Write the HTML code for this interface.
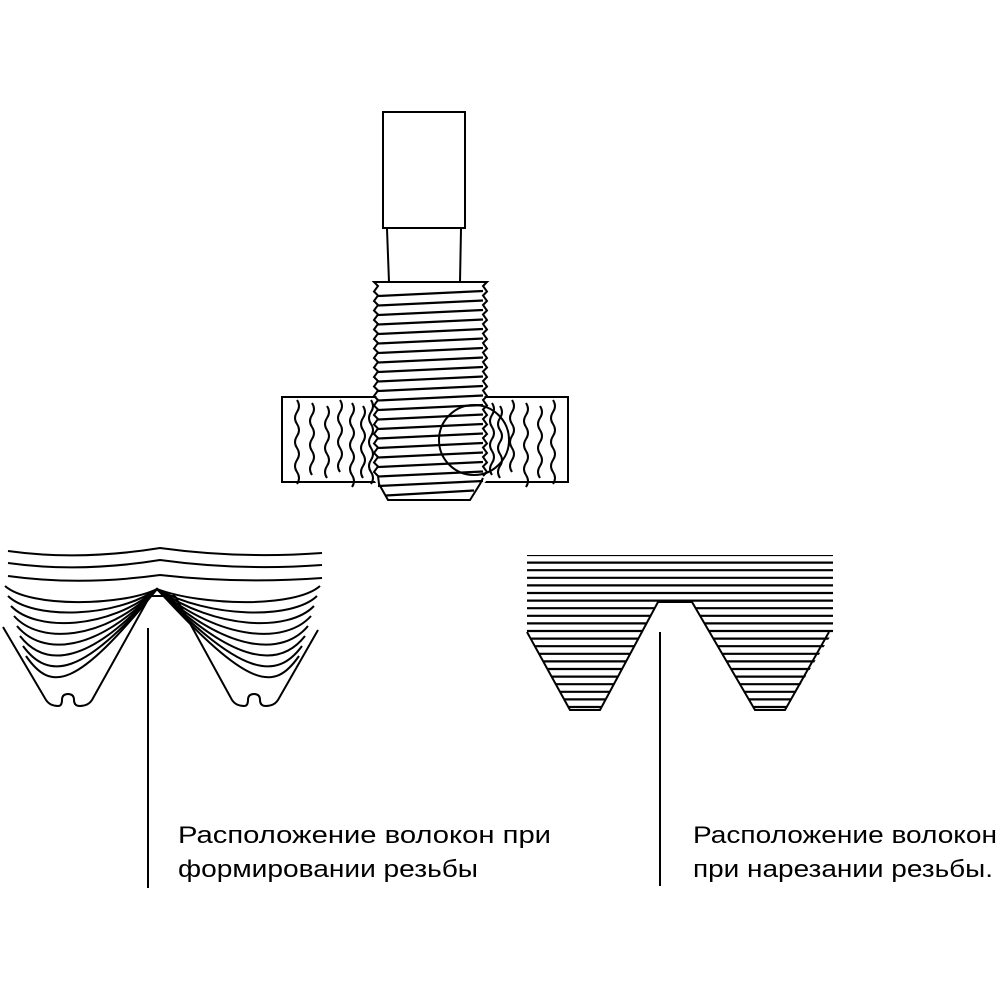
<!DOCTYPE html>
<html><head><meta charset="utf-8"><style>html,body{margin:0;padding:0;background:#fff}svg{display:block}</style></head>
<body>
<svg id="s" width="1000" height="1000" viewBox="0 0 1000 1000" xmlns="http://www.w3.org/2000/svg" fill="none" stroke="#000" stroke-width="2">
<defs>
<clipPath id="cr"><polygon points="527,555 833,555 833,632 785,710 755,710 692,602 658,602 600,710 570,710 527,632"/></clipPath>
</defs>
<rect x="383" y="112" width="82" height="116"/>
<line x1="387" y1="229" x2="389" y2="282"/><line x1="461" y1="229" x2="460" y2="282"/>
<rect x="282" y="397" width="286" height="85"/>
<g id="wood"></g>
<g id="boltg"></g>
<circle cx="474" cy="440" r="35"/>
<g id="rl" clip-path="url(#cr)"></g>
<polyline points="527,632 570,710 600,710 658,602 692,602 755,710 785,710 829,632"/>
<line x1="660" y1="632" x2="660" y2="886"/>
<g id="ll"></g>
<path d="M3,627 L46,700 Q50,706 58,706 Q62,706 62,700 Q62,694 68,694 Q74,694 74,700 Q74,706 80,706 Q88,706 92,700 L150,596"/>
<path d="M175,596 L232,700 Q236,706 244,706 Q248,706 248,700 Q248,694 254,694 Q260,694 260,700 Q260,706 266,706 Q274,706 278,700 L318,630"/>
<line x1="150" y1="596" x2="175" y2="596"/>
<line x1="148" y1="628" x2="148" y2="888"/>
<g font-family="'Liberation Sans', sans-serif" font-size="24" fill="#000" stroke="none">
<text x="178" y="843" textLength="373" lengthAdjust="spacingAndGlyphs">Расположение волокон при</text>
<text x="178" y="877" textLength="300" lengthAdjust="spacingAndGlyphs">формировании резьбы</text>
<text x="693" y="843" textLength="304" lengthAdjust="spacingAndGlyphs">Расположение волокон</text>
<text x="693" y="877" textLength="300" lengthAdjust="spacingAndGlyphs">при нарезании резьбы.</text>
</g>
</svg>
<script>
var NS="http://www.w3.org/2000/svg";
function el(p,t,a){var e=document.createElementNS(NS,t);for(var k in a)e.setAttribute(k,a[k]);document.getElementById(p).appendChild(e);return e;}
for(var y=555;y<712;y+=7.6) el("rl","line",{x1:520,y1:y,x2:840,y2:y,"stroke-width":2.2});
var xs=[297,312,327,340,352,363,371,492,500,512,526,540,553];
xs.forEach(function(x,i){var y0=400+(i%3)*3, y1=478-(i%2)*6;var p="M"+x+","+y0;var s=1;for(var y=y0;y<y1;y+=12){p+=" Q"+(x+4*s)+","+(y+6)+" "+x+","+(y+12);s=-s;}
 el("wood","path",{d:p,"stroke-width":2});});
var dl="M380,282", dr="M481,282";
for(var y=286;y<=478;y+=9.5){dl+=" L374,"+(y-4)+" L378,"+y;dr+=" L487,"+(y-4)+" L483,"+y;}
el("boltg","path",{d:"M380,282 L481,282 L487,480 L470,500 L388,500 L374,480 Z",fill:"#fff",stroke:"none"});
el("boltg","path",{d:dl+" L379,484 L388,500 L470,500 L480,484 L483,478"});
el("boltg","path",{d:dr});
el("boltg","line",{x1:380,y1:282,x2:481,y2:282});
for(var y=294;y<=497;y+=9.5){var xa=y>484?386:378, xb=y>484?474:483;el("boltg","line",{x1:xa,y1:y+2,x2:xb,y2:y-3,"stroke-width":2.2});}
var tops=[[553,548],[565,560],[578,575]];
tops.forEach(function(t){el("ll","path",{d:"M8,"+(t[0]-2)+" Q80,"+(t[0]+8)+" 160,"+t[1]+" Q240,"+(t[0]+6)+" 322,"+t[0]});});
for(var k=0;k<8;k++){
 var y0=586+k*10, yb=600+k*12;
 var xl=5+k*3, xr=320-k*3;
 var xf=150-(yb-596)*0.56, xfr=175+(yb-596)*0.56;
 el("ll","path",{d:"M"+xl+","+y0+" C"+(xl+25)+","+(yb+8)+" "+(xf-25)+","+(yb+6)+" 157,589 C"+(xfr+25)+","+(yb+6)+" "+(xr-25)+","+(yb+8)+" "+xr+","+y0});
}
</script>
</body></html>
